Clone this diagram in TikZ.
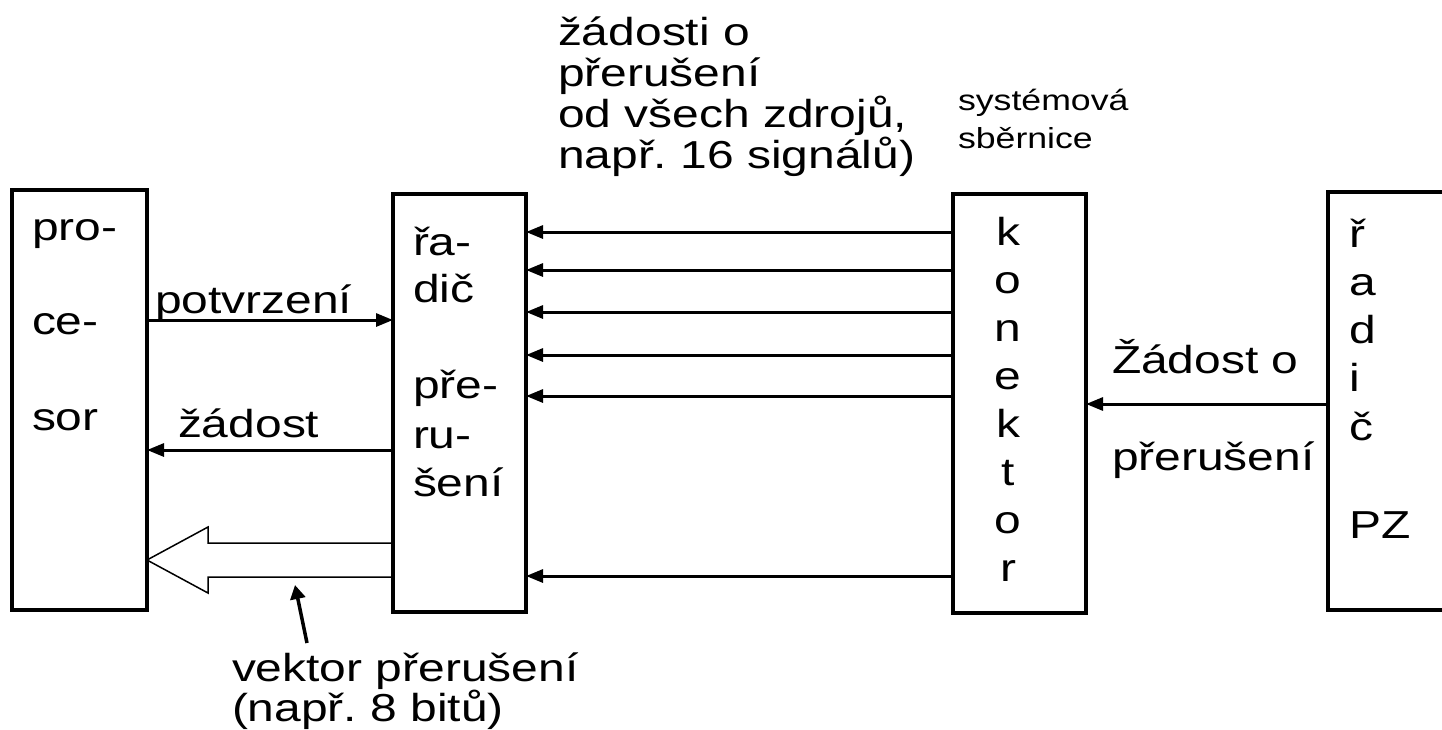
\documentclass[tikz,border=0pt]{standalone}
\usepackage{fontspec}
\setmainfont{Liberation Sans}[FakeStretch=1.23]
\usetikzlibrary{arrows.meta}
\frenchspacing
\begin{document}
\begin{tikzpicture}[x=1pt,y=-1pt,
  txt/.style={inner sep=0pt, outer sep=0pt, font=\fontsize{39}{41}\selectfont\frenchspacing},
  small/.style={inner sep=0pt, outer sep=0pt, font=\fontsize{29}{31}\selectfont\frenchspacing},
  box/.style={draw, line width=4pt, inner sep=0pt, outer sep=0pt, minimum width=#1},
  arr/.style={line width=3pt, -{Triangle[length=17pt,width=13pt]}},
  ptr/.style={line width=3.5pt, -{Triangle[length=14pt,width=15pt]}},
  hollow/.style={line width=1.5pt, line join=miter}
]
\useasboundingbox (0,0) rectangle (1442,729);

% boxes
\node[box=135pt, minimum height=420pt] (proc) at (79.5,400) {};
\node[box=133pt, minimum height=418pt] (rad) at (459.5,403) {};
\node[box=133pt, minimum height=419pt, line width=3.5pt] (kon) at (1019.5,403.5) {};
\node[box=132pt, minimum height=418pt, line width=3.5pt] (pz) at (1394,401) {};

% processor text
\node[txt, anchor=base west] (p1) at (32,240) {pro-};
\node[txt, anchor=base west] (p2) at (32,334) {ce-};
\node[txt, anchor=base west] (p3) at (32,430) {sor};

% radic text
\node[txt, anchor=base west] (r1) at (413,255) {řa-};
\node[txt, anchor=base west] (r2) at (413,302) {dič};
\node[txt, anchor=base west] (r3) at (413,398) {pře-};
\node[txt, anchor=base west] (r4) at (413,448) {ru-};
\node[txt, anchor=base west] (r5) at (413,496) {šení};

% konektor letters
\foreach \l [count=\i] in {k,o,n,e,k,t,o,r}
  \node[txt, anchor=base] (k\i) at (1008,{245+48*(\i-1)}) {\l};

% right box letters
\foreach \l [count=\i] in {ř,a,d,i,č}
  \node[txt, anchor=base west] (z\i) at (1349,{247+48.3*(\i-1)}) {\l};
\node[txt, anchor=base west] (z6) at (1349,538) {PZ};

% labels
\node[txt, anchor=base west] (lp) at (155,313) {potvrzení};
\node[txt, anchor=base west] (lz) at (178,437) {žádost};
\node[txt, anchor=base west] (lr1) at (1112,373) {Žádost o};
\node[txt, anchor=base west] (lr2) at (1112,470) {přerušení};
\node[txt, anchor=base west] (v1) at (232,681) {vektor přerušení};
\node[txt, anchor=base west] (v2) at (232,721) {(např. 8 bitů)};
\node[txt, anchor=base west] (t1) at (558,45) {žádosti o};
\node[txt, anchor=base west] (t2) at (558,86) {přerušení};
\node[txt, anchor=base west] (t3) at (558,127) {od všech zdrojů,};
\node[txt, anchor=base west] (t4) at (558,168) {např. 16 signálů)};
\node[small, anchor=base west] (s1) at (958,110) {systémová};
\node[small, anchor=base west] (s2) at (958,148) {sběrnice};

% helper rows
\coordinate (ya) at (0,320);
\coordinate (yb) at (0,450);
\coordinate (yr) at (0,404);
\foreach \y [count=\i] in {232,270,312,355,396,576}
  \coordinate (yk\i) at (0,\y);

% connectors
\draw[arr] (proc.east |- ya) -- (rad.west |- ya);
\draw[arr] (rad.west |- yb) -- (proc.east |- yb);
\foreach \i in {1,...,6}
  \draw[arr] (kon.west |- yk\i) -- (rad.east |- yk\i);
\draw[arr] (pz.west |- yr) -- (kon.east |- yr);

% hollow bus arrow
\coordinate (h1) at (0,543);
\coordinate (h2) at (0,577);
\coordinate (htip) at (0,560);
\draw[hollow] (rad.west |- h1) -- (208,543) -- (208,527) -- (proc.east |- htip)
  -- (208,593) -- (208,577) -- (rad.west |- h2);

% pointer
\coordinate (pt0) at (307,643);
\coordinate (pt1) at (295,585);
\draw[ptr] (pt0) -- (pt1);
\end{tikzpicture}
\end{document}
